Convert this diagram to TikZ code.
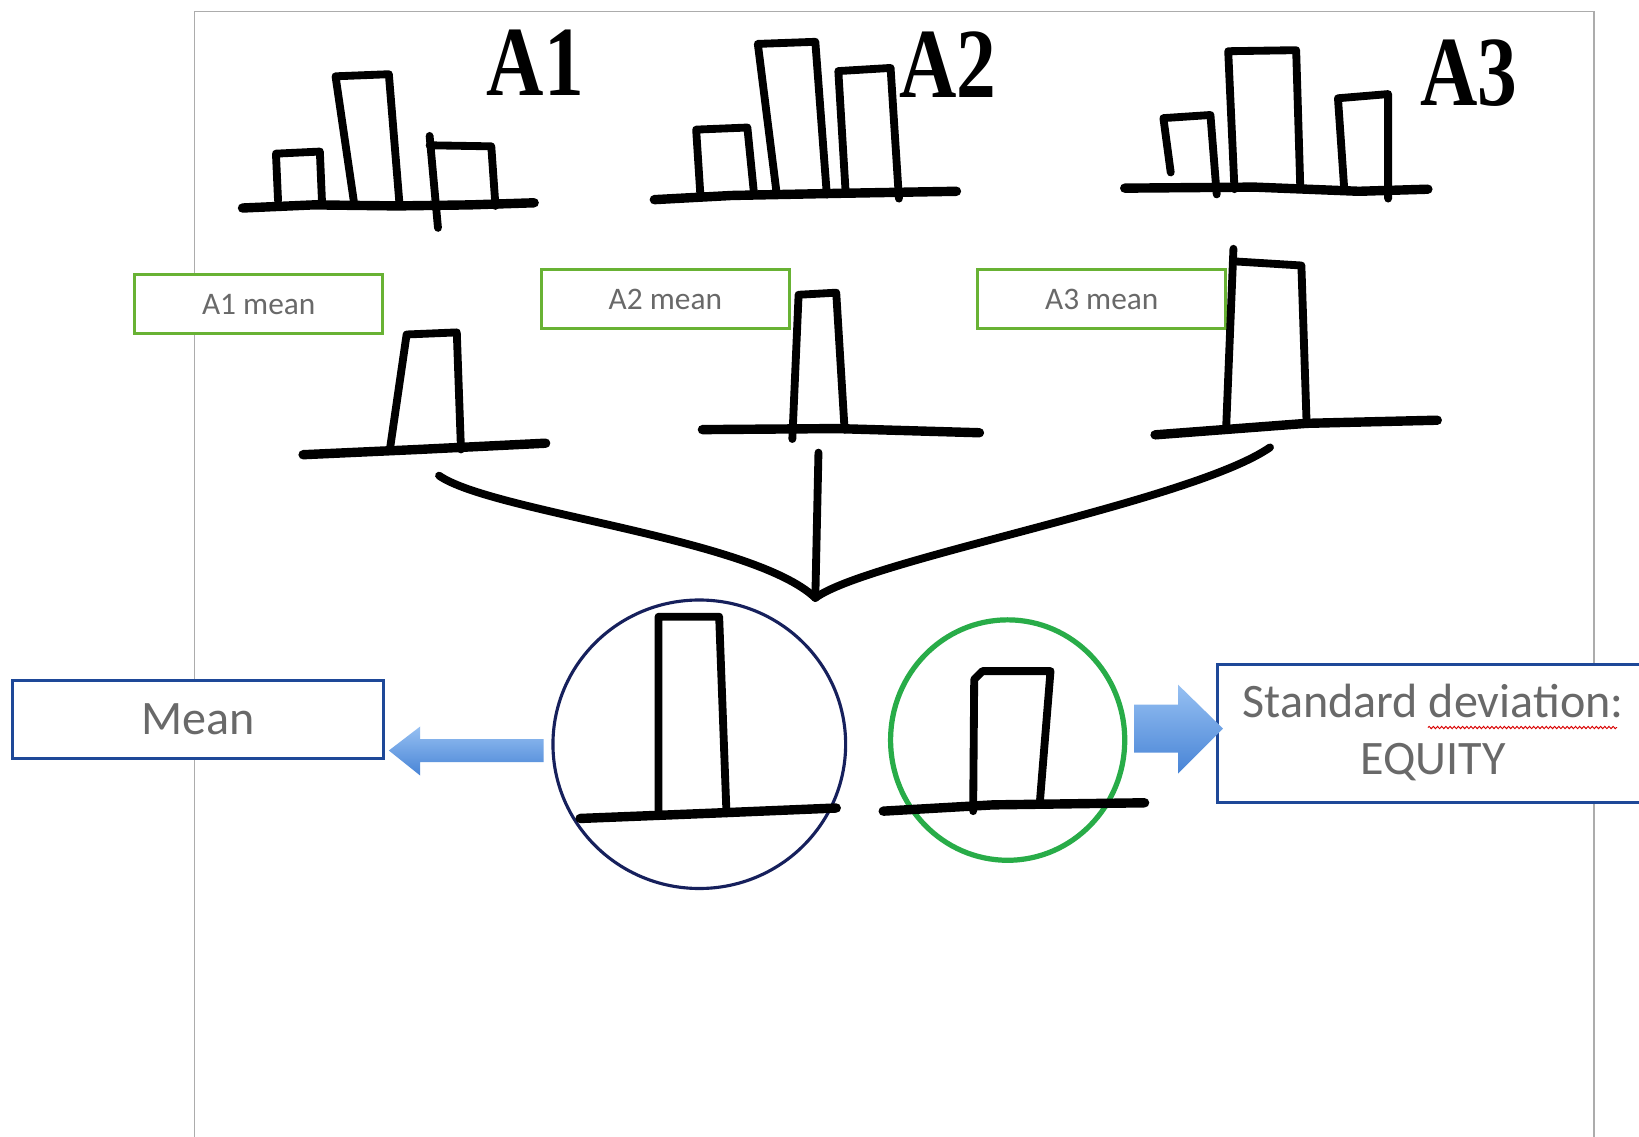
\documentclass[tikz,border=0pt]{standalone}
\usepackage{fontspec}
\setmainfont{Carlito}
\newfontfamily\handfont[FakeStretch=0.8]{Liberation Serif}
\usetikzlibrary{shapes.geometric,decorations.pathmorphing}
\definecolor{framegray}{RGB}{172,172,172}
\definecolor{boxgreen}{RGB}{104,178,52}
\definecolor{circgreen}{RGB}{40,172,72}
\definecolor{circnavy}{RGB}{22,32,92}
\definecolor{boxblue}{RGB}{30,72,152}
\definecolor{txtgray}{RGB}{105,105,105}
\definecolor{arrtop}{RGB}{150,192,242}
\definecolor{arrbot}{RGB}{72,132,214}
\begin{document}
\begin{tikzpicture}[x=1pt,y=-1pt,
  hand/.style={line width=7.5pt,line join=round,line cap=round,black},
  base/.style={line width=9pt,line join=round,line cap=round,black},
  greenbox/.style={draw=boxgreen,line width=3pt,fill=white,minimum width=237pt,minimum height=56pt,inner sep=0pt,text=txtgray,font=\fontsize{30}{36}\selectfont},
  bluebox/.style={draw=boxblue,line width=3pt,fill=white,inner sep=0pt,text=txtgray},
  handlabel/.style={font=\handfont\bfseries\fontsize{95}{95}\selectfont,inner sep=0pt},
  arrowfill/.style={top color=arrtop,bottom color=arrbot,draw=none}]
\useasboundingbox (0,0) rectangle (1568,1087);
\fill[white] (0,0) rectangle (1568,1087);
% page frame
\draw[framegray,line width=1.6pt] (186,1092) -- (186,11) -- (1525,11) -- (1525,1092);

% green labels
\node[greenbox] (a1m) at (247.5,291) {A1 mean};
\node[greenbox] (a2m) at (636.5,286) {A2 mean};
\node[greenbox] (a3m) at (1054,286) {A3 mean};

% handwritten labels
\node[handlabel] (la1) at (512,60) {A1};
\node[handlabel] (la2) at (907,62) {A2};
\node[handlabel] (la3) at (1405,70) {A3};

% A1 histogram
\draw[base] (232,199) -- (300,196) -- (380,197) -- (450,196) -- (511,194);
\draw[hand] (266,192) -- (264,147) -- (306,145) -- (308,192);
\draw[hand] (339,196) -- (321,73) -- (372,71) -- (382,193);
\draw[hand] (419,218) -- (411,130);
\draw[hand] (411,139) -- (470,140) -- (474,197);
% A2 histogram
\draw[base] (626,191) -- (700,187) -- (800,185) -- (915,183);
\draw[hand] (670,186) -- (666,124) -- (715,122) -- (721,182);
\draw[hand] (743,185) -- (725,42) -- (780,40) -- (791,186);
\draw[hand] (809,184) -- (802,68) -- (852,65) -- (860,190);
% A3 histogram
\draw[base] (1076,180) -- (1200,179) -- (1300,183) -- (1366,181);
\draw[hand] (1120,165) -- (1113,113) -- (1158,110) -- (1164,186);
\draw[hand] (1181,181) -- (1175,49) -- (1240,48) -- (1244,181);
\draw[hand] (1286,181) -- (1280,94) -- (1328,90) -- (1328,190);

% mean bars
\draw[base] (290,435) -- (400,430) -- (522,424);
\draw[hand] (373,430) -- (389,320) -- (437,318) -- (441,430);
\draw[base] (672,411) -- (800,410) -- (937,414);
\draw[hand] (758,420) -- (764,282) -- (800,280) -- (808,411);
\draw[base] (1105,416) -- (1250,405) -- (1375,402);
\draw[hand] (1173,410) -- (1180,238);
\draw[hand] (1180,250) -- (1245,254) -- (1250,405);

% brace
\coordinate (bl) at (420,455);
\coordinate (br) at (1215,428);
\coordinate (bt) at (783,433);
\coordinate (bp) at (780,572);
\draw[hand] (bl) .. controls (470,490) and (720,515) .. (bp);
\draw[hand] (br) .. controls (1140,480) and (830,535) .. (bp);
\draw[hand] (bt) -- (bp);

% circles
\node[ellipse,draw=circnavy,line width=3pt,minimum width=280pt,minimum height=276pt,inner sep=0pt] (navy) at (669,712) {};
\node[ellipse,draw=circgreen,line width=5pt,minimum width=224pt,minimum height=230pt,inner sep=0pt] (grn) at (964,708) {};
\draw[hand] (630,778) -- (630,590) -- (688,590) -- (695,778);
\draw[base] (555,783) -- (680,778) -- (800,773);
\draw[hand] (931,776) -- (932,650) -- (940,642) -- (1005,642) -- (995,765);
\draw[base] (845,776) -- (950,770) -- (1095,768);

% boxes
\node[bluebox,minimum width=355pt,minimum height=75pt,font=\fontsize{46}{52}\selectfont] (meanbox) at (189.5,688.5) {Mean};
\node[bluebox,minimum width=412pt,minimum height=132pt] (sdbox) at (1371,702) {};
\node[anchor=base,text=txtgray,inner sep=0pt,font=\fontsize{46}{52}\selectfont] (sd1) at (1371,686) {Standard deviation:};
\node[anchor=base,text=txtgray,inner sep=0pt,font=\fontsize{46}{52}\selectfont] (sd2) at (1371,741) {EQUITY};
\draw[red!85!black,line width=0.9pt,decorate,decoration={snake,amplitude=1.1pt,segment length=4pt}] (1366,696) -- (1547,696);

% block arrows
\shade[arrowfill] (520,707) -- (402,707) -- (402,695) -- (372,718) -- (402,742) -- (402,729) -- (520,729) -- cycle;
\shade[arrowfill] (1085,674) -- (1127,674) -- (1127,655) -- (1170,697) -- (1127,740) -- (1127,720) -- (1085,720) -- cycle;
\end{tikzpicture}
\end{document}
